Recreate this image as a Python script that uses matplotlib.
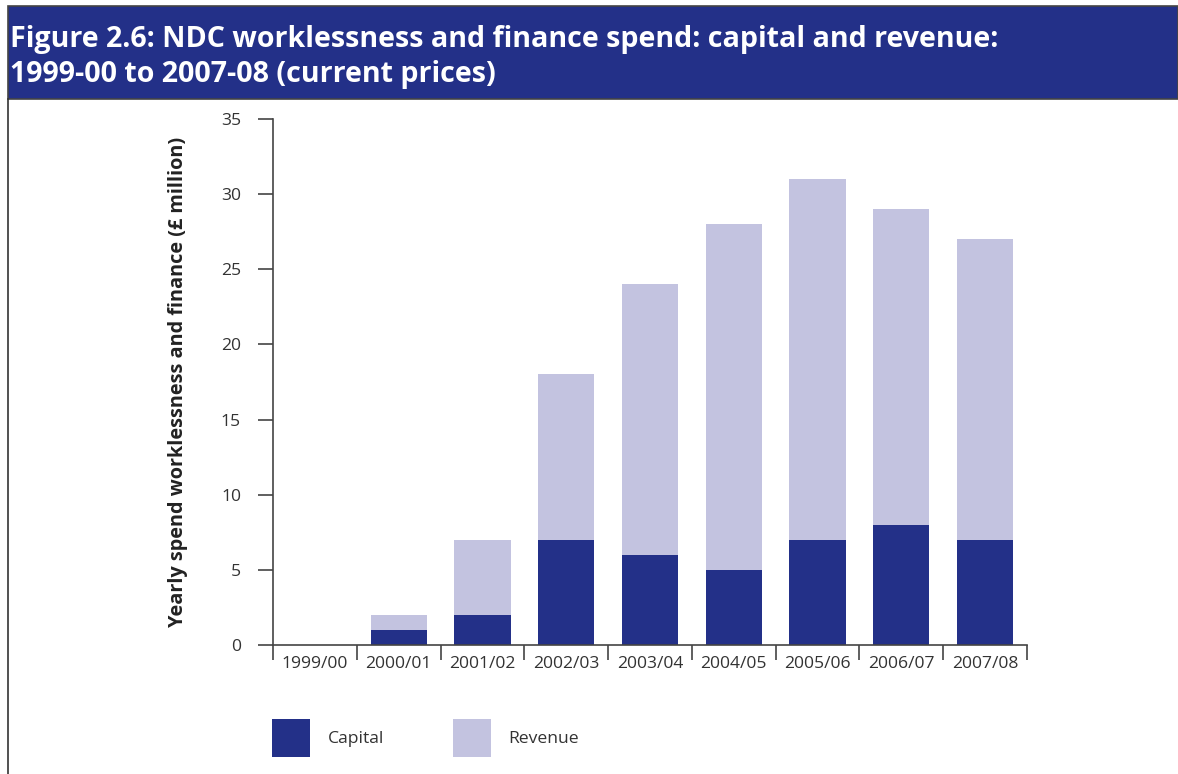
import matplotlib.pyplot as plt
from matplotlib.patches import Rectangle, Patch
from matplotlib.lines import Line2D
import numpy as np

# data
years = ["1999/00", "2000/01", "2001/02", "2002/03", "2003/04",
         "2004/05", "2005/06", "2006/07", "2007/08"]
capital = [0, 1, 2, 7, 6, 5, 7, 8, 7]
revenue = [0, 1, 5, 11, 18, 23, 24, 21, 20]

navy = "#233088"
lilac = "#c3c3e0"
txt = "#333333"

plt.rcParams['font.family'] = ['Open Sans', 'DejaVu Sans']

W, H = 1178, 774
fig = plt.figure(figsize=(W / 100, H / 100), dpi=100)

# title banner
fig.patches.append(Rectangle((8 / W, 1 - 99 / H), 1 - 8 / W, 93 / H,
                             transform=fig.transFigure, facecolor=navy,
                             edgecolor="#444444", linewidth=1.2))
fig.lines.append(Line2D([8 / W, 8 / W], [0, 1 - 99 / H], transform=fig.transFigure,
                        color="#333333", linewidth=1.2))
fig.text(10 / W, 1 - 57 / H,
         "Figure 2.6: NDC worklessness and finance spend: capital and revenue:\n"
         "1999-00 to 2007-08 (current prices)",
         color="white", fontsize=20.6, fontweight="bold", va="center", ha="left",
         linespacing=1.3)

ax = fig.add_axes([273 / W, 1 - 645 / H, 754 / W, 526 / H])
x = np.arange(len(years))
ax.bar(x, capital, 0.67, color=navy, label="Capital")
ax.bar(x, revenue, 0.67, bottom=capital, color=lilac, label="Revenue")

ax.set_xlim(-0.5, len(years) - 0.5)
ax.set_ylim(0, 35)
ax.set_yticks(range(0, 36, 5))
ax.set_xticks(x)
ax.set_xticklabels(years)
ax.set_xticks(np.arange(-0.5, len(years), 1), minor=True)

for s in ["top", "right"]:
    ax.spines[s].set_visible(False)
for s in ["left", "bottom"]:
    ax.spines[s].set_color("#444444")
    ax.spines[s].set_linewidth(1.2)

ax.tick_params(axis="x", which="major", length=0, pad=8, labelsize=12.6, labelcolor=txt)
ax.tick_params(axis="x", which="minor", length=11, width=1.2, color="#444444", direction="out")
ax.tick_params(axis="y", length=11, width=1.2, color="#444444", pad=12,
               labelsize=12.6, labelcolor=txt)

ax.set_ylabel("Yearly spend worklessness and finance (£ million)",
              fontsize=14.3, fontweight="bold", color="#222222", labelpad=24)

handles = [Patch(facecolor=navy, label="Capital"), Patch(facecolor=lilac, label="Revenue")]
fig.legend(handles=handles, loc="upper left", bbox_to_anchor=(272 / W, 1 - 719 / H),
           ncol=2, frameon=False, fontsize=12.6, handlelength=2.17, handleheight=2.99,
           handletextpad=1.0, columnspacing=3.95, borderpad=0, borderaxespad=0,
           labelcolor=txt)

fig.savefig("out.png", dpi=100)
